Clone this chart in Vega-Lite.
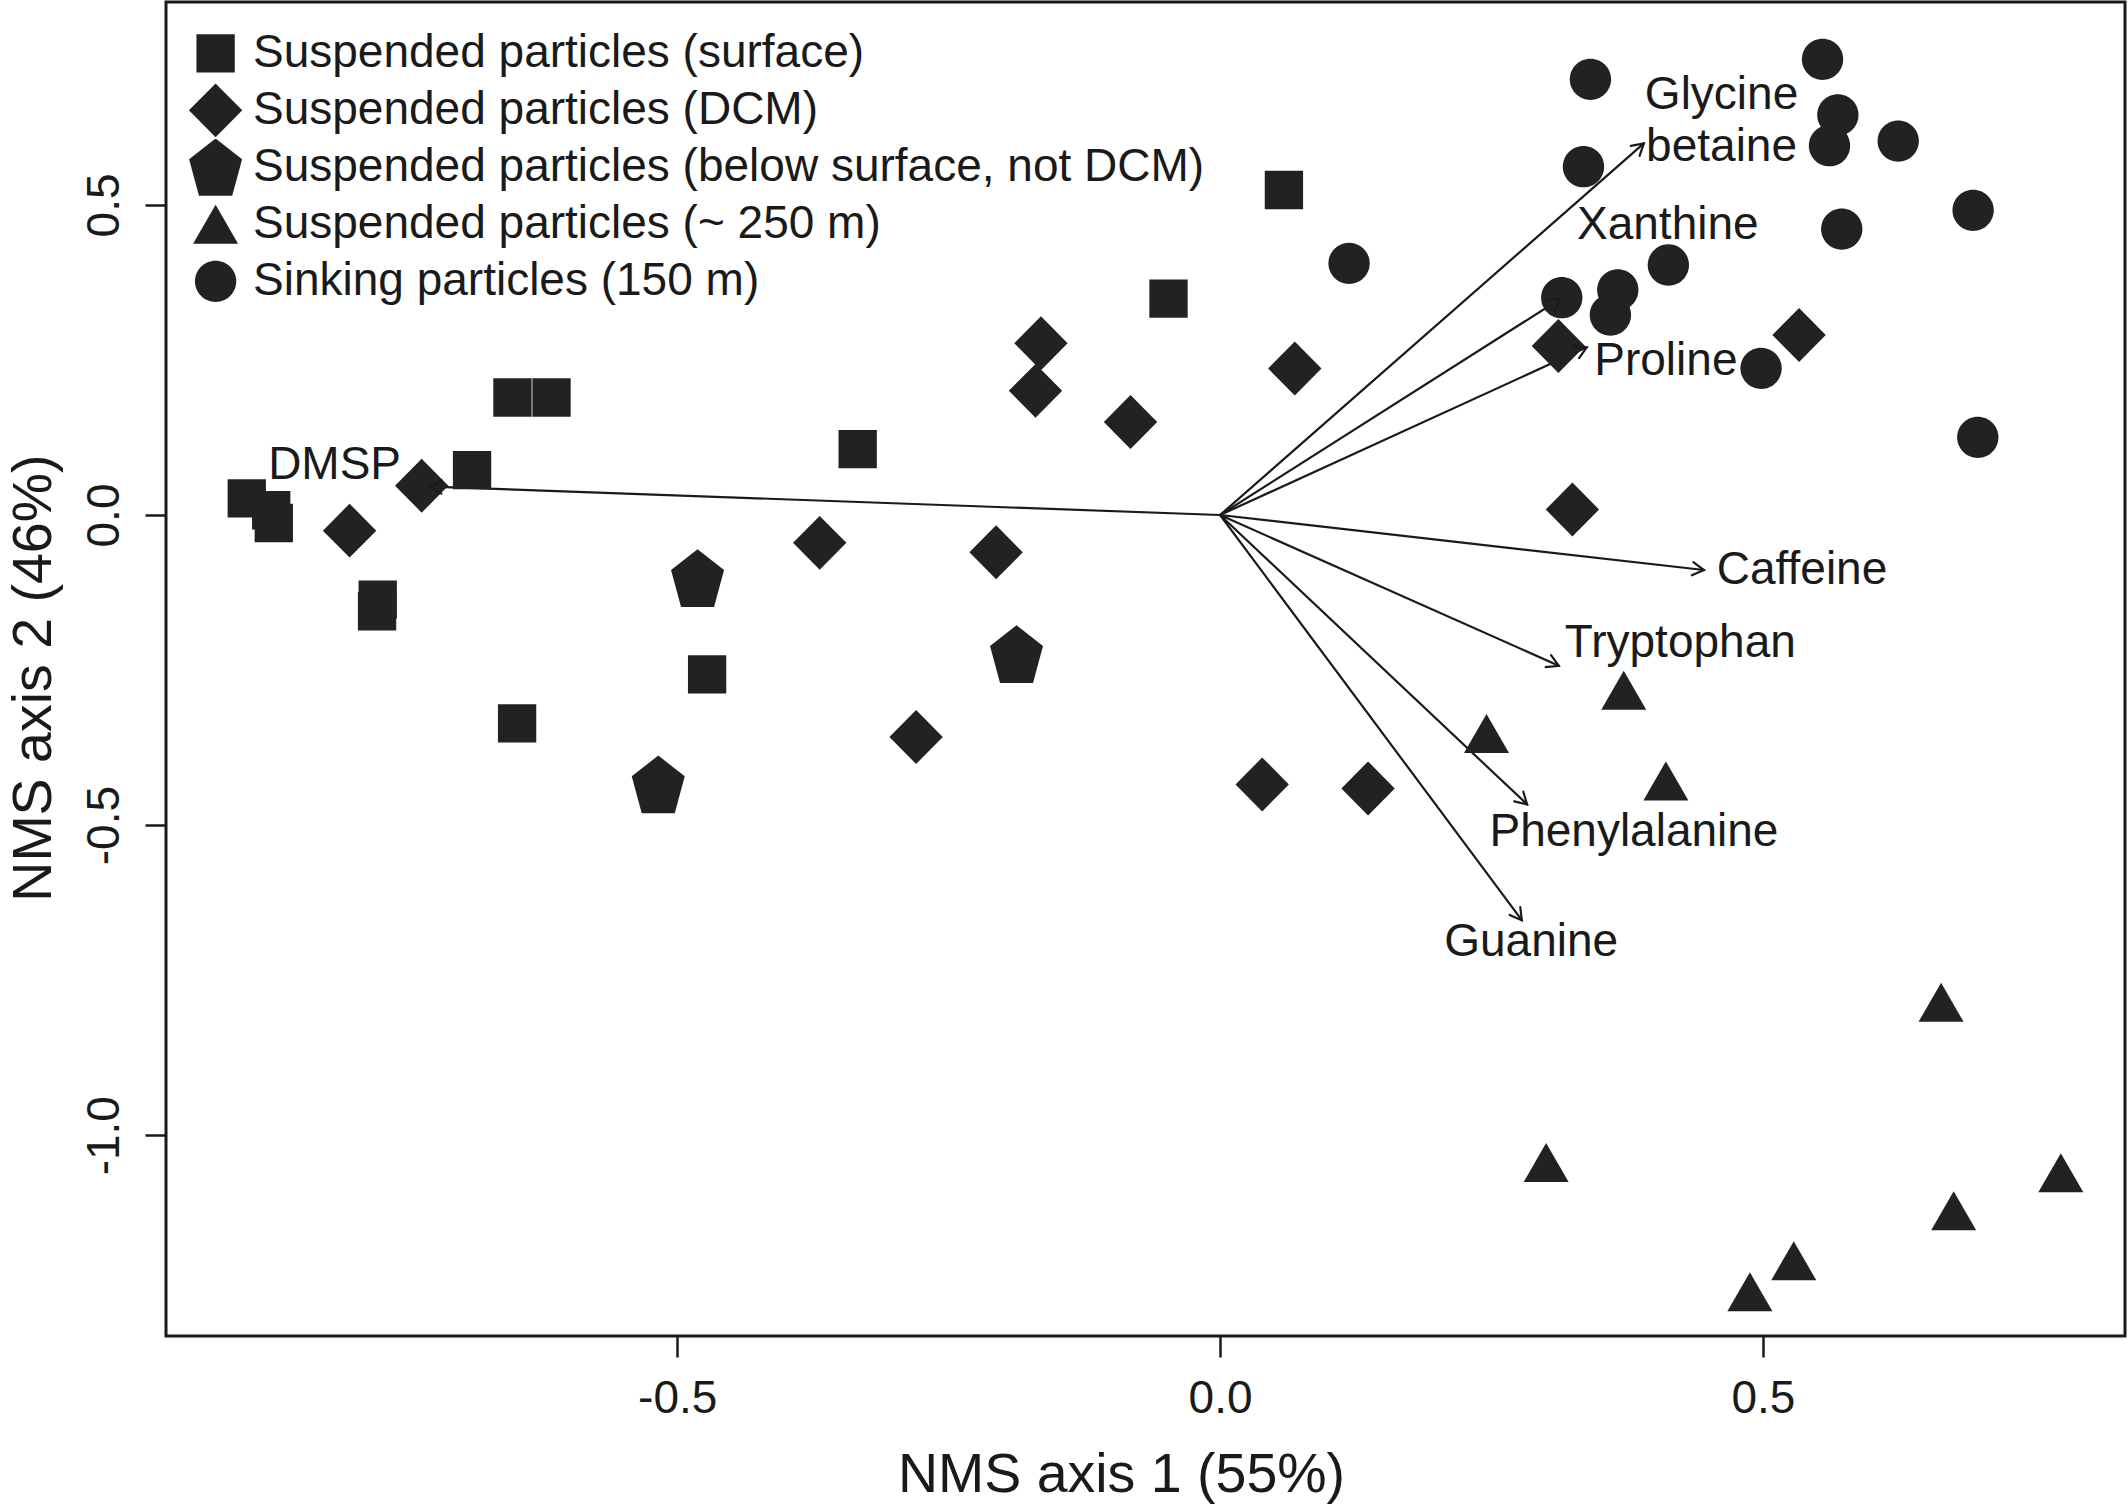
{
  "$schema": "https://vega.github.io/schema/vega-lite/v6.json",
  "width": 1959,
  "height": 1334,
  "autosize": {"type": "none"},
  "padding": {"left": 166, "top": 2, "right": 3, "bottom": 168},
  "background": "white",
  "config": {
    "font": "Liberation Sans",
    "view": {"stroke": "#1a1a1a", "strokeWidth": 3},
    "axis": {
      "grid": false, "domain": false,
      "tickColor": "#1a1a1a", "tickWidth": 2.5, "tickSize": 21,
      "labelFont": "Liberation Sans", "labelFontSize": 46, "labelColor": "#1a1a1a",
      "titleFont": "Liberation Sans", "titleFontSize": 55.5, "titleFontWeight": "normal", "titleColor": "#1a1a1a",
      "labelFlush": false, "labelOverlap": false
    }
  },
  "datasets": {
    "points": [
      {"x": 0.0588, "y": 0.5241, "group": "Suspended particles (surface)"},
      {"x": -0.0475, "y": 0.3490, "group": "Suspended particles (surface)"},
      {"x": -0.6518, "y": 0.1895, "group": "Suspended particles (surface)"},
      {"x": -0.6158, "y": 0.1895, "group": "Suspended particles (surface)"},
      {"x": -0.3338, "y": 0.1061, "group": "Suspended particles (surface)"},
      {"x": -0.689, "y": 0.0724, "group": "Suspended particles (surface)"},
      {"x": -0.8965, "y": 0.0269, "group": "Suspended particles (surface)"},
      {"x": -0.874, "y": 0.0077, "group": "Suspended particles (surface)"},
      {"x": -0.8716, "y": -0.0129, "group": "Suspended particles (surface)"},
      {"x": -0.7759, "y": -0.1365, "group": "Suspended particles (surface)"},
      {"x": -0.7765, "y": -0.1554, "group": "Suspended particles (surface)"},
      {"x": -0.4725, "y": -0.2571, "group": "Suspended particles (surface)"},
      {"x": -0.6475, "y": -0.3359, "group": "Suspended particles (surface)"},
      {"x": -0.165, "y": 0.2768, "group": "Suspended particles (DCM)"},
      {"x": -0.17, "y": 0.2002, "group": "Suspended particles (DCM)"},
      {"x": -0.0825, "y": 0.1499, "group": "Suspended particles (DCM)"},
      {"x": 0.0688, "y": 0.2363, "group": "Suspended particles (DCM)"},
      {"x": -0.7354, "y": 0.0473, "group": "Suspended particles (DCM)"},
      {"x": -0.8018, "y": -0.0252, "group": "Suspended particles (DCM)"},
      {"x": -0.3688, "y": -0.0449, "group": "Suspended particles (DCM)"},
      {"x": -0.2063, "y": -0.0602, "group": "Suspended particles (DCM)"},
      {"x": -0.28, "y": -0.3578, "group": "Suspended particles (DCM)"},
      {"x": 0.0388, "y": -0.4344, "group": "Suspended particles (DCM)"},
      {"x": 0.1363, "y": -0.4409, "group": "Suspended particles (DCM)"},
      {"x": 0.3116, "y": 0.2724, "group": "Suspended particles (DCM)"},
      {"x": 0.3245, "y": 0.0088, "group": "Suspended particles (DCM)"},
      {"x": 0.5333, "y": 0.2902, "group": "Suspended particles (DCM)"},
      {"x": -0.4813, "y": -0.1018, "group": "Suspended particles (below surface, not DCM)"},
      {"x": -0.1875, "y": -0.2243, "group": "Suspended particles (below surface, not DCM)"},
      {"x": -0.5175, "y": -0.4344, "group": "Suspended particles (below surface, not DCM)"},
      {"x": 0.3718, "y": -0.2827, "group": "Suspended particles (~ 250 m)"},
      {"x": 0.2454, "y": -0.3523, "group": "Suspended particles (~ 250 m)"},
      {"x": 0.4106, "y": -0.4287, "group": "Suspended particles (~ 250 m)"},
      {"x": 0.6641, "y": -0.7858, "group": "Suspended particles (~ 250 m)"},
      {"x": 0.3003, "y": -1.0442, "group": "Suspended particles (~ 250 m)"},
      {"x": 0.7744, "y": -1.0604, "group": "Suspended particles (~ 250 m)"},
      {"x": 0.6757, "y": -1.1217, "group": "Suspended particles (~ 250 m)"},
      {"x": 0.5284, "y": -1.2024, "group": "Suspended particles (~ 250 m)"},
      {"x": 0.488, "y": -1.2523, "group": "Suspended particles (~ 250 m)"},
      {"x": 0.3411, "y": 0.7025, "group": "Sinking particles (150 m)"},
      {"x": 0.5549, "y": 0.7348, "group": "Sinking particles (150 m)"},
      {"x": 0.569, "y": 0.645, "group": "Sinking particles (150 m)"},
      {"x": 0.5613, "y": 0.5955, "group": "Sinking particles (150 m)"},
      {"x": 0.6246, "y": 0.603, "group": "Sinking particles (150 m)"},
      {"x": 0.3347, "y": 0.5616, "group": "Sinking particles (150 m)"},
      {"x": 0.6936, "y": 0.4913, "group": "Sinking particles (150 m)"},
      {"x": 0.5726, "y": 0.4611, "group": "Sinking particles (150 m)"},
      {"x": 0.1188, "y": 0.4058, "group": "Sinking particles (150 m)"},
      {"x": 0.4129, "y": 0.4031, "group": "Sinking particles (150 m)"},
      {"x": 0.3663, "y": 0.3628, "group": "Sinking particles (150 m)"},
      {"x": 0.3147, "y": 0.3504, "group": "Sinking particles (150 m)"},
      {"x": 0.3595, "y": 0.3225, "group": "Sinking particles (150 m)"},
      {"x": 0.4983, "y": 0.2365, "group": "Sinking particles (150 m)"},
      {"x": 0.6979, "y": 0.1253, "group": "Sinking particles (150 m)"}
    ],
    "arrows": [
      {"variable": "DMSP", "x": -0.7276, "y": 0.0459},
      {"variable": "Glycine betaine", "x": 0.3903, "y": 0.5993},
      {"variable": "Xanthine", "x": 0.3132, "y": 0.3483},
      {"variable": "Proline", "x": 0.3377, "y": 0.2704},
      {"variable": "Caffeine", "x": 0.4457, "y": -0.0887},
      {"variable": "Tryptophan", "x": 0.312, "y": -0.2431},
      {"variable": "Phenylalanine", "x": 0.2828, "y": -0.4666},
      {"variable": "Guanine", "x": 0.2779, "y": -0.6533}
    ],
    "labels": [
      {"label": "DMSP", "x": -0.8156, "y": 0.0847},
      {"label": "Glycine\nbetaine", "x": 0.4619, "y": 0.6806},
      {"label": "Xanthine", "x": 0.4124, "y": 0.4716},
      {"label": "Proline", "x": 0.4106, "y": 0.252},
      {"label": "Caffeine", "x": 0.536, "y": -0.0847},
      {"label": "Tryptophan", "x": 0.4239, "y": -0.2022},
      {"label": "Phenylalanine", "x": 0.3812, "y": -0.5063},
      {"label": "Guanine", "x": 0.2865, "y": -0.6845}
    ]
  },
  "encoding": {
    "x": {
      "field": "x", "type": "quantitative",
      "scale": {"domain": [-0.9709, 0.8335], "nice": false, "zero": false},
      "axis": {
        "title": "NMS axis 1 (55%)",
        "values": [-0.5, 0, 0.5],
        "labelExpr": "datum.value < 0 ? '-' + format(-datum.value, '.1f') : format(datum.value, '.1f')",
        "labelBaseline": "alphabetic", "labelPadding": 55,
        "titleX": 955, "titleY": 155.7, "titleBaseline": "alphabetic", "titleAlign": "center"
      }
    },
    "y": {
      "field": "y", "type": "quantitative",
      "scale": {"domain": [-1.3238, 0.8272], "nice": false, "zero": false},
      "axis": {
        "title": "NMS axis 2 (46%)",
        "values": [-1, -0.5, 0, 0.5],
        "labelExpr": "datum.value < 0 ? '-' + format(-datum.value, '.1f') : format(datum.value, '.1f')",
        "labelAngle": -90, "labelAlign": "center", "labelBaseline": "alphabetic", "labelPadding": 26.4,
        "titleAngle": -90, "titleX": -116, "titleY": 675.6, "titleBaseline": "alphabetic", "titleAlign": "center"
      }
    }
  },
  "layer": [
    {
      "data": {"name": "arrows"},
      "mark": {"type": "rule", "color": "#1a1a1a", "strokeWidth": 2.2, "strokeCap": "round"},
      "encoding": {
        "x2": {"datum": 0},
        "y2": {"datum": 0}
      }
    },
    {
      "data": {"name": "points"},
      "mark": {"type": "point", "filled": true, "color": "#222222", "opacity": 1, "strokeWidth": 0, "size": 3329},
      "encoding": {
        "shape": {
          "field": "group", "type": "nominal",
          "scale": {
            "domain": ["Suspended particles (surface)", "Suspended particles (DCM)", "Suspended particles (below surface, not DCM)", "Suspended particles (~ 250 m)", "Sinking particles (150 m)"],
            "range": [
              "M-0.664,-0.664L0.664,-0.664L0.664,0.664L-0.664,0.664Z",
              "M-0.925,0L0,-0.935L0.925,0L0,0.935Z",
              "M0,-1L0.9185,-0.2825L0.572,1L-0.572,1L-0.9185,-0.2825Z",
              "M0,-0.676L0.78,0.676L-0.78,0.676Z",
              "M0.716,0A0.716,0.716,0,1,1,-0.716,0A0.716,0.716,0,1,1,0.716,0Z"
            ]
          },
          "legend": {
            "orient": "none", "legendX": 20.6, "legendY": 23, "title": null, "padding": 0,
            "labelFont": "Liberation Sans", "labelFontSize": 46, "labelColor": "#1a1a1a", "labelLimit": 3000,
            "labelOffset": 8.4, "symbolOffset": 0, "symbolSize": 3329, "symbolStrokeWidth": 0,
            "symbolFillColor": "#222222", "symbolOpacity": 1,
            "clipHeight": 56.7, "rowPadding": 0, "gridAlign": "all"
          }
        }
      }
    },
    {
      "data": {"name": "arrows"},
      "mark": {
        "type": "point", "shape": "M-0.5,0.866L0,0L0.5,0.866", "filled": false,
        "stroke": "#1a1a1a", "strokeWidth": 2.2, "size": 700, "opacity": 1, "strokeCap": "round",
        "angle": {"expr": "atan2(scale('y', datum.y) - scale('y', 0), scale('x', datum.x) - scale('x', 0)) * 180 / PI + 90"}
      },
      "encoding": {}
    },
    {
      "data": {"name": "labels"},
      "mark": {
        "type": "text", "font": "Liberation Sans", "fontSize": 46, "color": "#1a1a1a",
        "align": "center", "baseline": "middle", "lineBreak": "\n", "lineHeight": 51.7, "dy": 2.5
      },
      "encoding": {
        "text": {"field": "label", "type": "nominal"}
      }
    }
  ]
}
